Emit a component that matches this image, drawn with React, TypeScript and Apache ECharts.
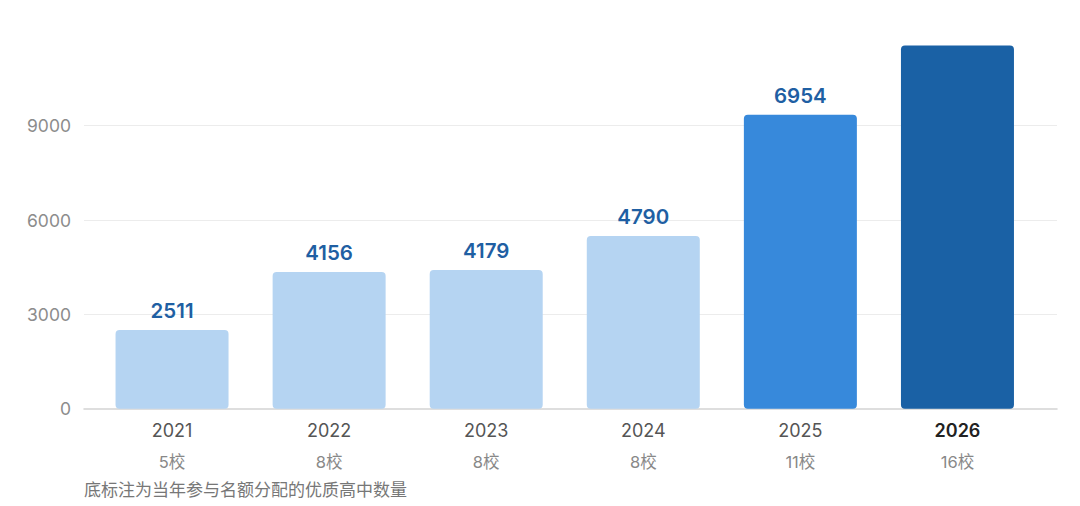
import React, { useEffect, useRef } from "react";
import * as echarts from "echarts";

const years = ["2021", "2022", "2023", "2024", "2025", "2026"];
const barValues = [2500, 4350, 4410, 5490, 9350, 11550];
const valueLabels = ["2511", "4156", "4179", "4790", "6954", ""];
const schoolCounts = ["5校", "8校", "8校", "8校", "11校", "16校"];
const barColors = ["#b5d4f2", "#b5d4f2", "#b5d4f2", "#b5d4f2", "#3789db", "#1a61a5"];
const yTicks = { min: 0, max: 12000, interval: 3000 };
const footnote = "底标注为当年参与名额分配的优质高中数量";

const FONT = "Inter, 'Noto Sans CJK SC', sans-serif";

export default function App() {
  const ref = useRef<HTMLDivElement>(null);
  useEffect(() => {
    document.body.style.margin = "0";
    if (!ref.current) return;
    const chart = echarts.init(ref.current, null, { renderer: "svg" });
    const top = 31.4;
    const bottom = 506 - 408.7;
    chart.setOption({
      animation: false,
      textStyle: { fontFamily: FONT },
      grid: [
        { left: 84, right: 1080 - 1057, top, bottom },
        { left: 93.5, right: 1080 - 1036, top, bottom },
      ],
      xAxis: [
        {
          gridIndex: 0,
          type: "category",
          data: years,
          axisLine: { show: true, lineStyle: { color: "#d3d3d3", width: 1.5 } },
          axisTick: { show: false },
          axisLabel: { show: false },
        },
        {
          gridIndex: 1,
          type: "category",
          data: years,
          axisLine: { show: false },
          axisTick: { show: false },
          axisLabel: {
            margin: 9,
            interval: 0,
            formatter: (v: string, i: number) =>
              `{${v === "2026" ? "yb" : "y"}|${v}}\n{s|${schoolCounts[i]}}`,
            rich: {
              y: { fontSize: 18, color: "#555555", lineHeight: 26, fontFamily: FONT },
              yb: { fontSize: 18, color: "#222222", fontWeight: 600, lineHeight: 26, fontFamily: FONT },
              s: { fontSize: 16.5, color: "#888888", lineHeight: 36, fontFamily: FONT },
            },
          },
        },
      ],
      yAxis: [
        {
          gridIndex: 0,
          type: "value",
          min: yTicks.min,
          max: yTicks.max,
          interval: yTicks.interval,
          axisLine: { show: false },
          axisTick: { show: false },
          axisLabel: {
            margin: 13,
            fontSize: 17.5,
            color: "#8c8c8c",
            showMaxLabel: false,
            formatter: (v: number) => String(v),
          },
          splitLine: { show: true, showMaxLine: false, showMinLine: false, lineStyle: { color: "#ececec", width: 1 } },
        },
        {
          gridIndex: 1,
          type: "value",
          min: yTicks.min,
          max: yTicks.max,
          interval: yTicks.interval,
          show: false,
          splitLine: { show: false },
        },
      ],
      series: [
        {
          type: "bar",
          xAxisIndex: 1,
          yAxisIndex: 1,
          barWidth: 113,
          data: barValues.map((v, i) => ({
            value: v,
            itemStyle: { color: barColors[i], borderRadius: 4 },
          })),
          label: {
            show: true,
            position: "top",
            distance: 9,
            fontSize: 20.5,
            fontWeight: 600,
            color: "#1f5fa3",
            fontFamily: FONT,
            formatter: (p: any) => valueLabels[p.dataIndex],
          },
        },
      ],
      graphic: [
        {
          type: "text",
          left: 84,
          top: 481,
          style: { text: footnote, fontSize: 17, fill: "#777777", fontFamily: FONT },
        },
      ],
    });
    return () => chart.dispose();
  }, []);
  return <div ref={ref} style={{ width: 1080, height: 506 }} />;
}
